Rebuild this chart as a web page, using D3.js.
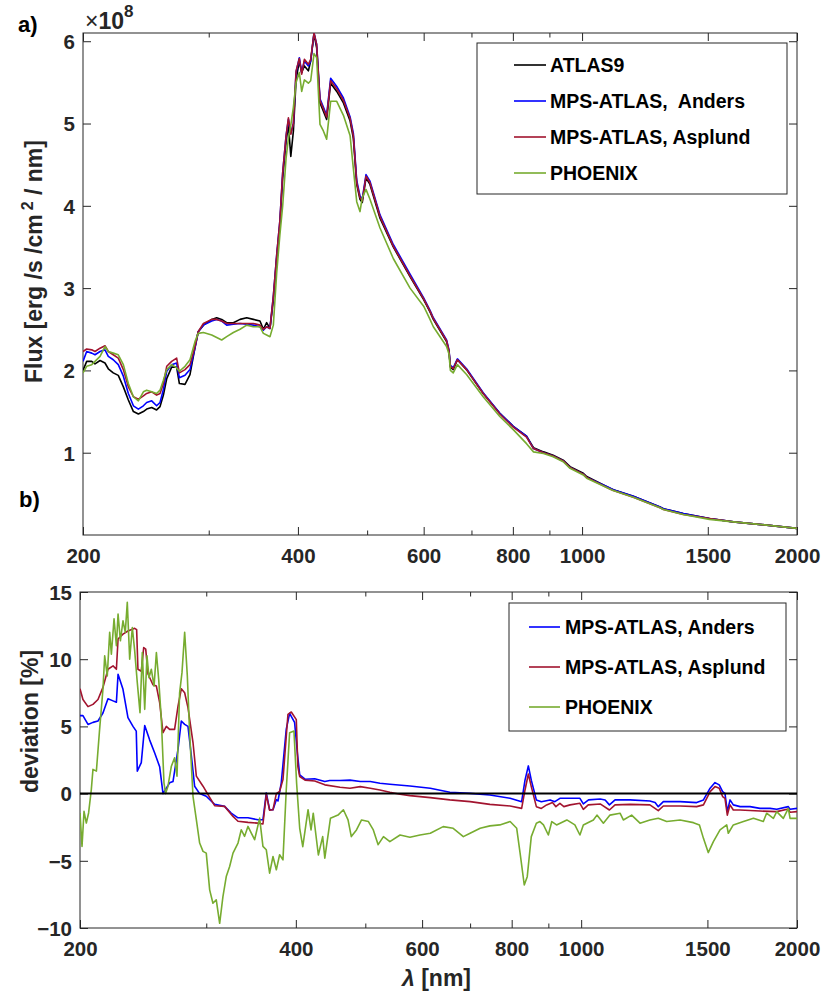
<!DOCTYPE html>
<html>
<head>
<meta charset="utf-8">
<script src="https://cdn.jsdelivr.net/npm/d3@7"></script>
<style>
  body { margin: 0; background: #fff; }
  svg { display: block; }
  text { font-family: "Liberation Sans", Arial, Helvetica, sans-serif; }
</style>
</head>
<body>
<svg id="chart" width="830" height="1007"></svg>
<script>
// ---- panel a) flux, units of 1e8 erg/s/cm2/nm, shared wavelength grid (nm)
const fluxWl = [
  200, 202.4, 205.7, 207.9, 211.3, 214.7, 217.0, 220.5, 224.1, 227.8,
  231.5, 235.3, 239.1, 243.0, 245.6, 249.6, 253.6, 256.4, 259.2, 262.0,
  266.2, 270.5, 272.9, 277.9, 282.4, 287.0, 290.0, 294.9, 302.9, 307.8,
  312.8, 317.9, 324.8, 331.9, 339.1, 346.4, 353.9, 357.8, 361.6, 365.5,
  369.5,
  373.5, 377.4, 380.8, 385.0, 387.9, 390.9, 394.2, 397.6, 401.8, 404.9,
  408.4, 413.7, 416.8, 421.3, 424.9, 429.5, 434.2, 438.8, 444.5, 453.3,
  463.2, 473.3, 478.3, 483.5, 488.6, 492.2, 498.2, 504.6, 521.2, 544.0,
  574.2,
  600, 612.4, 619, 646, 651, 654, 660, 669, 689, 727,
  767, 801, 836, 855, 883, 911, 941, 962, 1004, 1015,
  1094, 1106, 1180, 1286, 1300, 1386, 1508, 1629, 1814, 2000
];
const atlas9Flux = [
  2.00, 2.11, 2.11, 2.08, 2.12, 2.09, 2.02, 1.97, 1.94, 1.80,
  1.64, 1.50, 1.47, 1.50, 1.53, 1.55, 1.52, 1.56, 1.70, 1.90,
  2.04, 2.04, 1.84, 1.83, 1.95, 2.28, 2.47, 2.55, 2.62, 2.64,
  2.62, 2.58, 2.58, 2.62, 2.64, 2.62, 2.60, 2.50, 2.58, 2.51,
  2.85,
  3.36, 3.77, 4.34, 4.78, 4.99, 4.60, 4.91, 5.53, 5.76, 5.62,
  5.70, 5.64, 5.76, 6.09, 5.92, 5.25, 5.15, 5.05, 5.49, 5.39,
  5.25, 5.03, 4.82, 4.26, 4.08, 4.04, 4.34, 4.26, 3.85, 3.50,
  3.14,
  2.86, 2.71, 2.62, 2.35, 2.23, 2.04, 2.01, 2.13, 2.01, 1.72,
  1.48, 1.32, 1.20, 1.06, 1.01, 0.97, 0.91, 0.83, 0.75, 0.71,
  0.57, 0.55, 0.47, 0.34, 0.32, 0.26, 0.20, 0.16, 0.12, 0.08
];
const andersFlux = [
  2.11, 2.23, 2.21, 2.19, 2.23, 2.25, 2.17, 2.13, 2.07, 1.93,
  1.72, 1.57, 1.53, 1.57, 1.61, 1.63, 1.57, 1.61, 1.77, 1.99,
  2.07, 2.09, 1.91, 1.94, 2.01, 2.27, 2.47, 2.55, 2.60, 2.62,
  2.60, 2.55, 2.56, 2.57, 2.56, 2.55, 2.53, 2.49, 2.53, 2.51,
  2.90,
  3.40, 3.82, 4.40, 4.85, 5.05, 4.88, 5.00, 5.62, 5.80, 5.62,
  5.76, 5.70, 5.76, 6.10, 5.96, 5.30, 5.20, 5.10, 5.55, 5.45,
  5.31, 5.08, 4.88, 4.31, 4.12, 4.08, 4.38, 4.30, 3.89, 3.53,
  3.17,
  2.88, 2.73, 2.64, 2.37, 2.25, 2.06, 2.03, 2.14, 2.02, 1.73,
  1.48, 1.32, 1.20, 1.05, 1.00, 0.96, 0.90, 0.82, 0.74, 0.70,
  0.57, 0.55, 0.47, 0.34, 0.32, 0.26, 0.20, 0.16, 0.12, 0.08
];
const asplundFlux = [
  2.23, 2.26, 2.25, 2.23, 2.27, 2.30, 2.23, 2.19, 2.15, 2.01,
  1.80, 1.68, 1.65, 1.69, 1.72, 1.74, 1.70, 1.72, 1.84, 2.05,
  2.11, 2.15, 1.97, 2.01, 2.07, 2.29, 2.47, 2.57, 2.62, 2.62,
  2.60, 2.57, 2.57, 2.57, 2.57, 2.57, 2.55, 2.50, 2.53, 2.51,
  2.90,
  3.40, 3.82, 4.40, 4.85, 5.07, 4.87, 5.00, 5.64, 5.79, 5.60,
  5.78, 5.72, 5.78, 6.10, 5.96, 5.28, 5.18, 5.08, 5.52, 5.42,
  5.28, 5.06, 4.85, 4.28, 4.10, 4.06, 4.36, 4.28, 3.87, 3.51,
  3.15,
  2.87, 2.72, 2.63, 2.36, 2.24, 2.05, 2.02, 2.13, 2.01, 1.72,
  1.47, 1.31, 1.19, 1.05, 1.00, 0.96, 0.90, 0.82, 0.74, 0.70,
  0.56, 0.54, 0.46, 0.33, 0.31, 0.25, 0.20, 0.16, 0.12, 0.08
];
const phoenixFlux = [
  1.97, 2.05, 2.07, 2.11, 2.17, 2.29, 2.23, 2.21, 2.19, 2.07,
  1.84, 1.68, 1.63, 1.74, 1.76, 1.74, 1.72, 1.76, 1.88, 2.01,
  2.07, 2.03, 1.99, 2.05, 2.13, 2.35, 2.45, 2.46, 2.43, 2.40,
  2.37, 2.41, 2.46, 2.50, 2.55, 2.53, 2.53, 2.45, 2.43, 2.41,
  2.55,
  3.18, 3.65, 4.00, 4.58, 4.82, 4.98, 5.20, 5.50, 5.62, 5.39,
  5.53, 5.49, 5.52, 5.85, 5.80, 4.99, 4.91, 4.81, 5.27, 5.27,
  5.10, 4.85, 4.45, 4.05, 3.93, 4.10, 4.20, 4.08, 3.73, 3.36,
  3.00,
  2.78, 2.62, 2.53, 2.29, 2.20, 2.00, 1.97, 2.07, 1.95, 1.68,
  1.44, 1.28, 1.11, 1.01, 0.99, 0.95, 0.89, 0.81, 0.73, 0.69,
  0.56, 0.54, 0.46, 0.33, 0.31, 0.25, 0.19, 0.16, 0.12, 0.08
];

// ---- panel b) deviation from ATLAS9 [%]
const andersDevWl = [
  200, 201.9, 205.2, 208.5, 211.9, 215.3, 218.8, 222.4, 224.8, 226.0,
  229.6, 233.3, 237.1, 239.6, 240.4, 243.5, 246.2, 250.1, 254.3, 258.3,
  261.1, 263.9, 266.7, 269.6, 274.0, 276.9, 279.9, 282.9, 286.0, 289.0,
  293.7, 300.0, 308.2, 318.2, 325.0, 332.2, 343.0, 354.2, 359.9, 363.8,
  367.7, 371.7, 375.7, 377.7, 381.7, 387.9, 392.1, 398.4, 402, 405,
  412, 425, 439, 446, 461, 476, 492, 508, 524, 541,
  577, 616, 656, 700, 746, 796, 826, 835, 844, 852,
  866, 880, 905, 919, 934, 965, 996, 1007, 1024, 1063,
  1080, 1095, 1115, 1170, 1247, 1268, 1281, 1302, 1374, 1449,
  1481, 1513, 1537, 1558, 1575, 1587, 1599, 1613, 1630, 1666,
  1720, 1776, 1834, 1874, 1945, 1956, 2000
];
const andersDev = [
  5.8, 5.8, 5.15, 5.3, 5.4, 6.0, 7.06, 6.9, 6.8, 8.88,
  7.76, 5.65, 5.0, 4.65, 1.67, 2.3, 5.07, 4.0, 3.0, 2.0,
  0.0, 0.4, 0.8, 0.9, 3.3, 5.4, 5.15, 5.0, 2.8, 0.55,
  0.0, -0.2, -0.8, -0.95, -1.45, -1.8, -1.8, -1.95, -1.95, 0.05,
  -1.2, -1.2, -0.45, -0.55, 0.8, 4.8, 5.97, 5.3, 3.0, 1.4,
  1.07, 1.1, 0.9, 0.97, 0.97, 1.0, 0.9, 0.9, 0.77, 0.7,
  0.57, 0.4, 0.1, 0.02, -0.1, -0.35, -0.6, 1.0, 2.06, 1.0,
  -0.47, -0.6, -0.47, -0.6, -0.35, -0.35, -0.35, -0.77, -0.47, -0.4,
  -0.47, -0.84, -0.47, -0.47, -0.55, -0.67, -0.97, -0.6, -0.6, -0.67,
  -0.47, 0.4, 0.82, 0.65, 0.15, 0.02, -1.34, -0.47, -0.84, -0.97,
  -0.97, -1.1, -1.1, -1.17, -0.97, -1.17, -1.1
];
const asplundDevWl = [
  200, 201.9, 205.2, 208.5, 211.9, 215.3, 218.8, 222.4, 224.8, 226.0,
  229.6, 233.3, 238.4, 239.9, 240.9, 243.5, 245.4, 247.0, 248.8, 252.8,
  255.6, 258.3, 261.1, 263.9, 266.7, 271.0, 274.0, 276.9, 279.9, 282.9,
  287.5, 290.6, 296.9, 301.7, 308.2, 318.2, 326.9, 332.2, 343.0, 354.2,
  359.9, 363.8, 367.7, 371.7, 375.7, 379.7, 383.8, 390.0, 394.2, 400.6,
  402.6, 405, 412, 425, 439, 461, 476, 492, 508, 524,
  541, 559, 577, 616, 656, 700, 746, 796, 826, 835,
  844, 852, 866, 880, 895, 912, 922, 934, 946, 965,
  996, 1007, 1023, 1063, 1095, 1115, 1170, 1247, 1281, 1302,
  1374, 1449, 1481, 1513, 1537, 1558, 1575, 1587, 1599, 1613,
  1630, 1666, 1776, 1874, 1945, 1956, 2000
];
const asplundDev = [
  7.8, 7.0, 6.47, 6.64, 7.0, 7.9, 9.25, 9.5, 9.25, 11.5,
  11.87, 12.1, 12.3, 12.2, 9.25, 9.1, 10.87, 10.75, 8.9, 8.1,
  8.0, 6.77, 4.53, 5.0, 4.78, 4.78, 6.5, 7.8, 7.5, 6.4,
  3.8, 1.3, 0.55, -0.07, -0.9, -0.95, -1.7, -2.06, -2.14, -2.2,
  -2.26, -0.07, -1.24, -1.2, 0.0, 0.17, 1.04, 5.9, 6.07, 5.5,
  2.0, 1.27, 1.0, 0.94, 0.65, 0.47, 0.4, 0.52, 0.4, 0.27,
  0.1, -0.05, -0.15, -0.3, -0.47, -0.6, -0.8, -0.92, -1.1, 0.27,
  1.46, 0.52, -0.97, -1.1, -0.84, -0.67, -0.97, -0.72, -0.97, -0.84,
  -0.72, -1.17, -0.84, -0.77, -1.22, -0.84, -0.8, -0.84, -1.27, -0.92,
  -0.92, -0.97, -0.84, 0.15, 0.52, 0.4, -0.22, -0.35, -1.6, -0.84,
  -1.22, -1.22, -1.3, -1.34, -1.14, -1.39, -1.34
];
const phoenixDevWl = [
  200, 201.3, 202.6, 204.1, 205.6, 207.4, 208.5, 210.8, 213.0, 215.3,
  216.5, 218.3, 220.0, 221.2, 223.1, 224.8, 226.0, 227.7, 229.6, 231.3,
  232.8, 234.6, 236.6, 238.4, 240.4, 242.5, 244.3, 246.2, 248.0, 249.6,
  251.5, 253.7, 255.6, 257.5, 259.7, 261.9, 263.3, 265.3, 268.2, 271.0,
  273.1, 275.4, 277.5, 279.9, 282.3, 284.4, 287.5, 290.6, 293.7, 296.9,
  300.0, 303.3, 306.5, 309.8, 313.2, 316.5, 319.9, 323.4, 326.9, 332.2,
  335.7, 339.3, 343.0, 346.7, 350.4, 356.1, 359.9, 363.8, 367.7, 371.7,
  375.7, 379.7, 383.8, 387.9, 392.1, 397.6, 401, 405, 409, 416,
  420, 423, 430, 436, 439, 447, 458, 466, 473, 478,
  486, 494, 505, 513, 521, 530, 541, 559, 577, 596,
  616, 642, 663, 685, 700, 723, 746, 770, 796, 813,
  822, 833, 841, 852, 866, 876, 886, 900, 910, 924,
  955, 980, 996, 1007, 1040, 1052, 1074, 1097, 1133, 1145,
  1176, 1208, 1247, 1281, 1316, 1374, 1434, 1462, 1481, 1504,
  1529, 1562, 1596, 1604, 1630, 1684, 1739, 1795, 1814, 1854,
  1874, 1914, 1945, 1956, 2000
];
const phoenixDev = [
  -1.44, -3.93, -1.32, -2.19, -1.44, 0.3, 1.8, 1.67, 4.78, 7.76,
  10.25, 8.76, 12.0, 10.37, 13.0, 11.0, 13.36, 11.37, 12.86, 12.0,
  14.23, 10.0, 12.36, 10.62, 8.26, 6.02, 10.5, 6.27, 10.25, 8.63,
  9.25, 8.0, 10.5, 8.5, 5.52, 0.8, 0.0, 0.55, 2.04, 2.66,
  1.3, 7.5, 9.0, 12.0, 8.76, 4.53, -0.2, -1.94, -3.68, -4.3,
  -4.43, -7.16, -8.16, -7.9, -9.65, -7.66, -6.17, -5.42, -4.43, -3.68,
  -2.69, -3.18, -2.44, -2.94, -3.43, -1.82, -3.93, -4.18, -5.92, -4.68,
  -5.67, -4.55, -4.93, 0.3, 4.53, 4.65, 0.77, -2.58, -3.95, -1.2,
  -2.7, -1.46, -4.57, -3.2, -4.8, -1.84, -1.6, -1.2, -1.96, -3.2,
  -2.7, -1.96, -2.08, -2.7, -3.8, -3.2, -3.57, -3.08, -3.25, -3.08,
  -2.95, -2.46, -2.58, -3.2, -2.95, -2.58, -2.4, -2.33, -2.08, -2.58,
  -4.44, -6.8, -6.18, -3.2, -2.2, -2.08, -2.33, -3.08, -2.08, -2.33,
  -1.96, -2.33, -3.08, -2.33, -1.96, -1.6, -2.2, -1.6, -1.46, -1.96,
  -1.6, -2.2, -1.96, -1.84, -2.08, -1.96, -2.16, -2.33, -3.33, -4.39,
  -3.57, -2.7, -2.33, -2.95, -2.33, -2.08, -1.84, -2.08, -1.46, -1.84,
  -1.34, -1.84, -1.1, -1.84, -1.84
];

// ---- ticks and labels
const xMajorTicks = [200, 400, 600, 800, 1000, 1500, 2000];
const xMinorTicks = [300, 500, 700, 900];
const fluxTicks = [1, 2, 3, 4, 5, 6];
const devTicks = [-10, -5, 0, 5, 10, 15];
const fluxNames = ["ATLAS9", "MPS-ATLAS,\u00a0 Anders", "MPS-ATLAS, Asplund", "PHOENIX"];
const devNames = ["MPS-ATLAS, Anders", "MPS-ATLAS, Asplund", "PHOENIX"];

const colors = { atlas: "#000000", anders: "#0000ff", asplund: "#a2142f", phoenix: "#77ac30" };
const axisColor = "#262626";

const svg = d3.select("#chart");

const fluxSeries = [
  { name: fluxNames[0], wl: fluxWl, v: atlas9Flux, color: colors.atlas },
  { name: fluxNames[1], wl: fluxWl, v: andersFlux, color: colors.anders },
  { name: fluxNames[2], wl: fluxWl, v: asplundFlux, color: colors.asplund },
  { name: fluxNames[3], wl: fluxWl, v: phoenixFlux, color: colors.phoenix }
];
const devSeries = [
  { name: devNames[0], wl: andersDevWl, v: andersDev, color: colors.anders },
  { name: devNames[1], wl: asplundDevWl, v: asplundDev, color: colors.asplund },
  { name: devNames[2], wl: phoenixDevWl, v: phoenixDev, color: colors.phoenix }
];

// draws one MATLAB-like panel (box, inward ticks on all sides)
function panel(id, box, yDomain, yTicks, series) {
  const x = d3.scaleLog().domain([200, 2000]).range([box.left, box.right]);
  const y = d3.scaleLinear().domain(yDomain).range([box.bottom, box.top]);
  const g = svg.append("g").attr("class", id);

  g.append("clipPath").attr("id", "clip-" + id)
    .append("rect")
    .attr("x", box.left).attr("y", box.top)
    .attr("width", box.right - box.left).attr("height", box.bottom - box.top);

  [
    d3.axisBottom(x).tickValues(xMajorTicks).tickSize(-8).tickPadding(13).tickFormat(d3.format("d")),
    d3.axisBottom(x).tickValues(xMinorTicks).tickSize(-4.5).tickFormat("")
  ].forEach(a => g.append("g").attr("transform", `translate(0,${box.bottom})`).call(a));
  [
    d3.axisTop(x).tickValues(xMajorTicks).tickSize(-8).tickFormat(""),
    d3.axisTop(x).tickValues(xMinorTicks).tickSize(-4.5).tickFormat("")
  ].forEach(a => g.append("g").attr("transform", `translate(0,${box.top})`).call(a));
  g.append("g").attr("class", "yl")
    .attr("transform", `translate(${box.left},0)`)
    .call(d3.axisLeft(y).tickValues(yTicks).tickSize(-8).tickPadding(8).tickFormat(d3.format("d")));
  g.append("g")
    .attr("transform", `translate(${box.right},0)`)
    .call(d3.axisRight(y).tickValues(yTicks).tickSize(-8).tickFormat(""));

  g.selectAll(".domain").remove();
  g.selectAll(".tick line").attr("stroke", axisColor).attr("stroke-width", 1);
  g.selectAll(".tick text")
    .attr("fill", axisColor).attr("font-size", 20.5).attr("font-weight", "bold")
    .attr("font-family", '"Liberation Sans", Arial, sans-serif');
  g.selectAll(".yl .tick text").attr("dy", "0.36em");

  g.append("rect")
    .attr("x", box.left).attr("y", box.top)
    .attr("width", box.right - box.left).attr("height", box.bottom - box.top)
    .attr("fill", "none").attr("stroke", axisColor).attr("stroke-width", 1);

  const line = d3.line().x(d => x(d[0])).y(d => y(d[1]));
  const plot = g.append("g").attr("clip-path", `url(#clip-${id})`);
  plot.selectAll("path.series")
    .data(series)
    .join("path")
    .attr("class", "series")
    .attr("d", s => line(d3.zip(s.wl, s.v)))
    .attr("fill", "none")
    .attr("stroke", s => s.color)
    .attr("stroke-width", 1.6)
    .attr("stroke-linejoin", "round");

  return { x, y, g, plot };
}

// a) flux
const fluxPanel = panel("flux", { left: 83, right: 797, top: 33, bottom: 535 }, [0, 6.1], fluxTicks, fluxSeries);

// b) deviation
const devPanel = panel("dev", { left: 80, right: 797, top: 592, bottom: 928 }, [-10, 15], devTicks, devSeries);
devPanel.plot.append("line")
  .attr("x1", devPanel.x(200)).attr("x2", devPanel.x(2000))
  .attr("y1", devPanel.y(0)).attr("y2", devPanel.y(0))
  .attr("stroke", "#000").attr("stroke-width", 2);

// legends
function legend(box, series, lineX0, lineX1, textX, firstY, step) {
  const lg = svg.append("g");
  lg.append("rect")
    .attr("x", box.x).attr("y", box.y).attr("width", box.w).attr("height", box.h)
    .attr("fill", "#fff").attr("stroke", axisColor).attr("stroke-width", 1);
  const item = lg.selectAll("g.item").data(series).join("g").attr("class", "item")
    .attr("transform", (d, i) => `translate(0,${firstY + i * step})`);
  item.append("line")
    .attr("x1", lineX0).attr("x2", lineX1)
    .attr("stroke", d => d.color).attr("stroke-width", 1.6);
  item.append("text")
    .attr("x", textX).attr("y", 7)
    .attr("font-size", 19.5).attr("font-weight", "bold").attr("fill", "#000")
    .text(d => d.name);
}
legend({ x: 477, y: 43, w: 310, h: 151 }, fluxSeries, 514, 546, 550, 65, 36);
legend({ x: 509, y: 603, w: 277, h: 128 }, devSeries, 529, 560, 565, 627, 40);

// exponent label (x10^8) above the flux axis
const expo = svg.append("text").attr("x", 85).attr("y", 29)
  .attr("font-size", 23).attr("fill", axisColor);
expo.append("tspan").text("\u00d7").attr("font-size", 23);
expo.append("tspan").text("10").attr("font-size", 23).attr("font-weight", "bold");
expo.append("tspan").attr("dy", -12).attr("font-size", 17).attr("font-weight", "bold").text("8");

// axis titles
const fluxLabel = svg.append("text")
  .attr("transform", "translate(41.5,383) rotate(-90)")
  .attr("font-size", 23).attr("font-weight", "bold").attr("fill", axisColor)
  .text("Flux [erg /s /cm");
fluxLabel.append("tspan").attr("dx", 4).attr("dy", -9).attr("font-size", 16).text("2");
fluxLabel.append("tspan").attr("dy", 9).text(" / nm]");

svg.append("text")
  .attr("transform", "translate(38,793) rotate(-90)")
  .attr("font-size", 23).attr("font-weight", "bold").attr("fill", axisColor)
  .text("deviation [%]");

const xLabel = svg.append("text").attr("x", 402).attr("y", 986)
  .attr("font-size", 23).attr("font-weight", "bold").attr("fill", axisColor);
xLabel.append("tspan").attr("font-style", "italic").text("\u03bb");
xLabel.append("tspan").text(" [nm]");

// panel letters
svg.append("text").attr("x", 18).attr("y", 32)
  .attr("font-size", 22).attr("font-weight", "bold").attr("fill", "#000").text("a)");
svg.append("text").attr("x", 19).attr("y", 507)
  .attr("font-size", 22).attr("font-weight", "bold").attr("fill", "#000").text("b)");
</script>
</body>
</html>
